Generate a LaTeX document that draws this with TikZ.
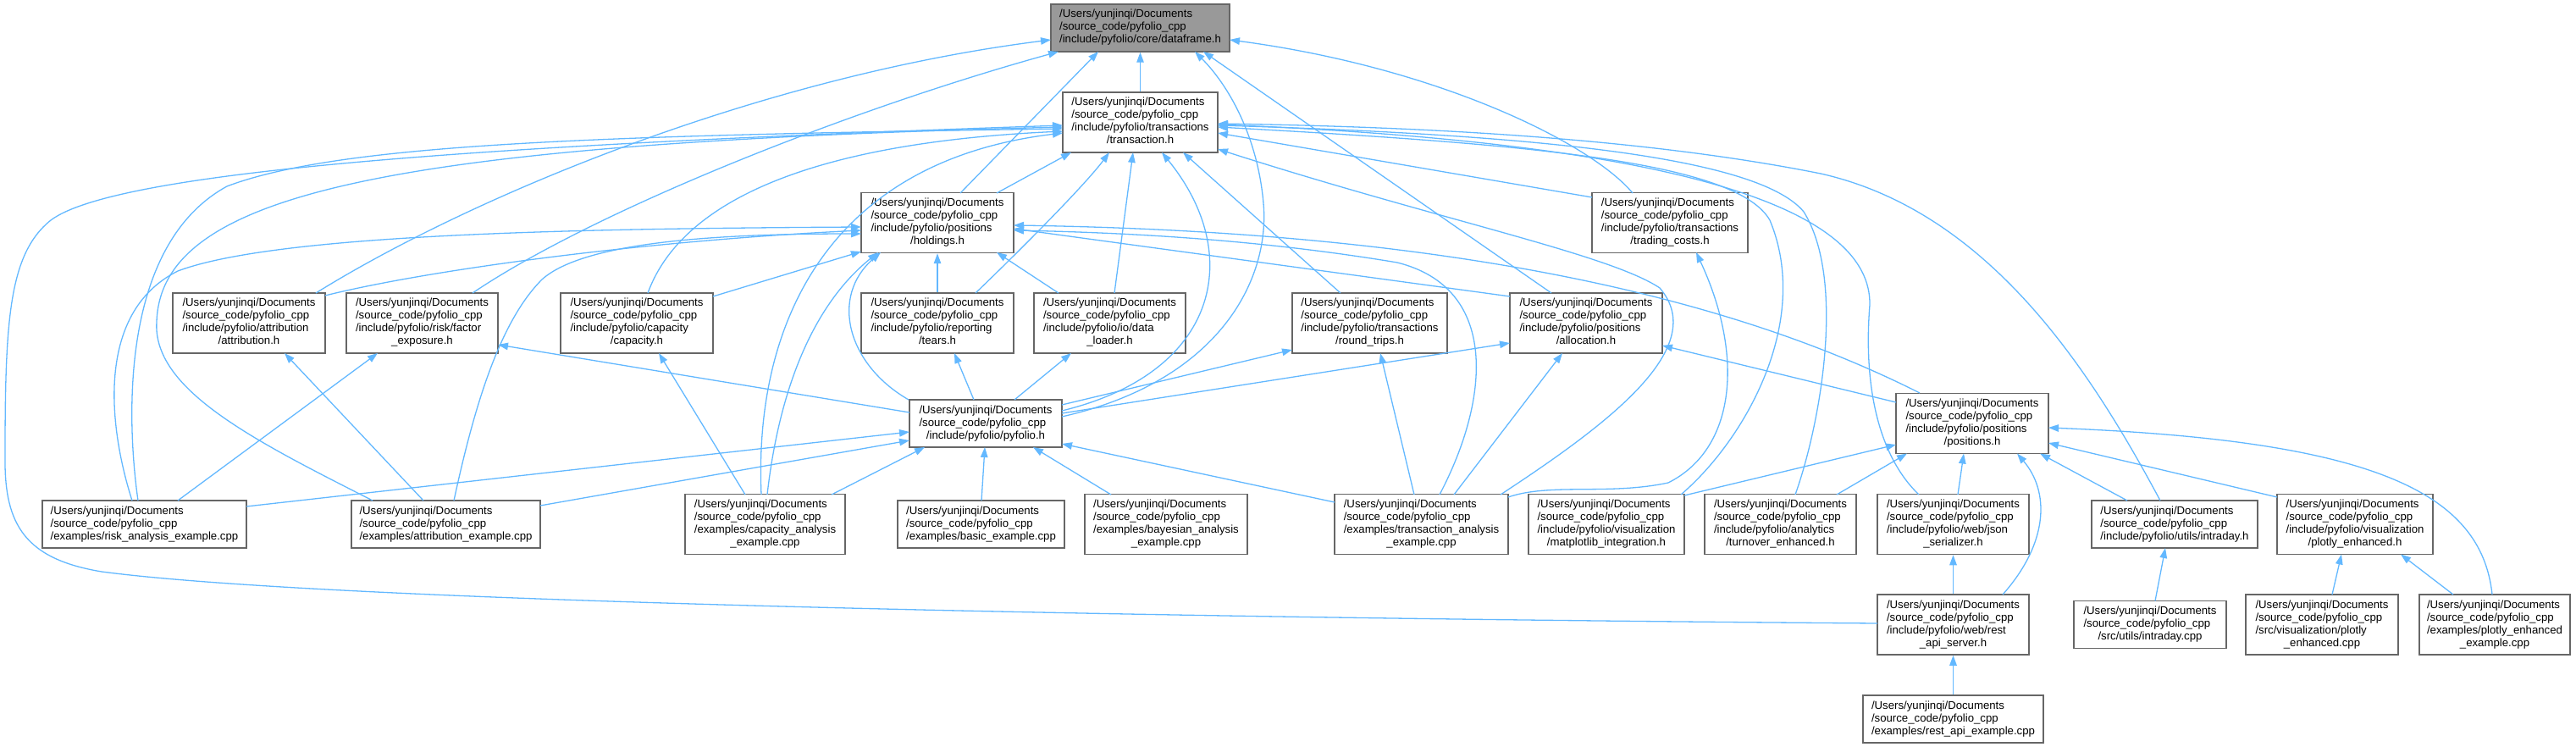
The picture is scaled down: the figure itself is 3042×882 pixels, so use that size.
\documentclass[tikz,border=0pt]{standalone}
\usepackage{fontspec}
\setmainfont{Liberation Sans}
\usetikzlibrary{arrows.meta,calc}
\definecolor{edgeblue}{HTML}{63B8FF}
\definecolor{boxgray}{HTML}{666666}
\definecolor{rootgray}{HTML}{999999}
\newcommand\pfx{/Users/yunjinqi/Documents\\/source\_code/pyfolio\_cpp}
\newcommand\lab[2]{\begin{tabular}{@{}l@{}}#1\\\multicolumn{1}{@{}c@{}}{#2}\end{tabular}}
\tikzset{
  box/.style={draw=boxgray, line width=1.5pt, fill=white, inner sep=0pt,
    minimum width=180pt, minimum height=71pt, text=black,
    font=\fontsize{13.2}{15}\selectfont},
  box3/.style={box, minimum height=56pt},
  rootbox/.style={box3, fill=rootgray},
  dep/.style={draw=edgeblue, line width=1.3pt, -{Triangle[length=12pt,width=8.5pt]}}
}
\begin{document}
\begin{tikzpicture}[x=1pt,y=-1pt]
\useasboundingbox (0,0) rectangle (3042,882);
% ---------- nodes ----------
\node[rootbox, minimum width=211pt] (df) at (1346.5,33) {\lab{\pfx}{/include/pyfolio/core/dataframe.h}};
\node[box, minimum width=183pt] (tr) at (1346.5,144.5) {\lab{\pfx\\/include/pyfolio/transactions}{/transaction.h}};
\node[box] (ho) at (1107,263) {\lab{\pfx\\/include/pyfolio/positions}{/holdings.h}};
\node[box, minimum width=184pt] (tc) at (1972,263) {\lab{\pfx\\/include/pyfolio/transactions}{/trading\_costs.h}};
\node[box] (at) at (294,381.5) {\lab{\pfx\\/include/pyfolio/attribution}{/attribution.h}};
\node[box, minimum width=179pt] (fe) at (498.5,381.5) {\lab{\pfx\\/include/pyfolio/risk/factor}{\_exposure.h}};
\node[box] (ca) at (752,381.5) {\lab{\pfx\\/include/pyfolio/capacity}{/capacity.h}};
\node[box] (te) at (1107,381.5) {\lab{\pfx\\/include/pyfolio/reporting}{/tears.h}};
\node[box, minimum width=179pt] (dl) at (1310.5,381.5) {\lab{\pfx\\/include/pyfolio/io/data}{\_loader.h}};
\node[box, minimum width=183pt] (rt) at (1617.5,381.5) {\lab{\pfx\\/include/pyfolio/transactions}{/round\_trips.h}};
\node[box] (al) at (1873,381.5) {\lab{\pfx\\/include/pyfolio/positions}{/allocation.h}};
\node[box3] (py) at (1164,500) {\lab{\pfx}{/include/pyfolio/pyfolio.h}};
\node[box] (po) at (2329,500) {\lab{\pfx\\/include/pyfolio/positions}{/positions.h}};
\node[box3, minimum width=241pt] (rx) at (170.5,619) {\lab{\pfx}{/examples/risk\_analysis\_example.cpp}};
\node[box3, minimum width=223pt] (ax) at (526.5,619) {\lab{\pfx}{/examples/attribution\_example.cpp}};
\node[box, minimum width=189pt] (cx) at (903.5,619) {\lab{\pfx\\/examples/capacity\_analysis}{\_example.cpp}};
\node[box3, minimum width=197pt] (bx) at (1158.5,619) {\lab{\pfx}{/examples/basic\_example.cpp}};
\node[box, minimum width=192pt] (by) at (1377,619) {\lab{\pfx\\/examples/bayesian\_analysis}{\_example.cpp}};
\node[box, minimum width=205pt] (tx) at (1678.5,619) {\lab{\pfx\\/examples/transaction\_analysis}{\_example.cpp}};
\node[box, minimum width=184pt] (mp) at (1897,619) {\lab{\pfx\\/include/pyfolio/visualization}{/matplotlib\_integration.h}};
\node[box, minimum width=179pt] (tu) at (2102.5,619) {\lab{\pfx\\/include/pyfolio/analytics}{/turnover\_enhanced.h}};
\node[box, minimum width=179pt] (js) at (2306.5,619) {\lab{\pfx\\/include/pyfolio/web/json}{\_serializer.h}};
\node[box3, minimum width=196pt] (ih) at (2568,619) {\lab{\pfx}{/include/pyfolio/utils/intraday.h}};
\node[box, minimum width=184pt] (ph) at (2781,619) {\lab{\pfx\\/include/pyfolio/visualization}{/plotly\_enhanced.h}};
\node[box, minimum width=179pt] (rs) at (2306.5,737.5) {\lab{\pfx\\/include/pyfolio/web/rest}{\_api\_server.h}};
\node[box3] (ic) at (2539,737.5) {\lab{\pfx}{/src/utils/intraday.cpp}};
\node[box] (pc) at (2742,737.5) {\lab{\pfx\\/src/visualization/plotly}{\_enhanced.cpp}};
\node[box, minimum width=178pt] (pe) at (2946,737.5) {\lab{\pfx\\/examples/plotly\_enhanced}{\_example.cpp}};
\node[box3, minimum width=213pt] (ra) at (2306.5,849) {\lab{\pfx}{/examples/rest\_api\_example.cpp}};
% ---------- edges into dataframe.h ----------
\draw[dep] (tr.north) -- (df.south);
\draw[dep] ($(ho)+(27,-35)$) -- ($(df)+(-49.5,28)$);
\draw[dep] ($(at)+(79,-35.5)$) .. controls (560,230) and (900,90) .. ($(df)+(-105.5,14)$);
\draw[dep] ($(fe)+(59.5,-35.5)$) .. controls (700,250) and (1000,130) .. ($(df)+(-96.5,28)$);
\draw[dep] ($(py)+(90,-8)$) .. controls (1440,450) and (1500,330) .. (1492,240) .. controls (1485,160) and (1450,100) .. ($(df)+(64.5,28)$);
\draw[dep] ($(al)+(-41,-35.5)$) -- ($(df)+(74.5,28)$);
\draw[dep] ($(tc)+(-44,-35)$) .. controls (1880,170) and (1700,80) .. ($(df)+(105.5,14)$);
% ---------- edges into transaction.h ----------
\draw[dep] ($(ho)+(70,-35)$) -- ($(tr)+(-81.5,35.5)$);
\draw[dep] ($(te)+(45,-35.5)$) .. controls (1200,300) and (1280,220) .. ($(tr)+(-36.5,35.5)$);
\draw[dep] ($(dl)+(5.5,-35.5)$) -- ($(tr)+(-8.5,35.5)$);
\draw[dep] ($(py)+(90,-15)$) .. controls (1440,440) and (1470,300) .. ($(tr)+(25.5,35.5)$);
\draw[dep] ($(rt)+(-34.5,-35.5)$) -- ($(tr)+(50.5,35.5)$);
\draw[dep] ($(ca)+(13,-35.5)$) .. controls (800,250) and (930,170) .. ($(tr)+(-91.5,10.5)$);
\draw[dep] ($(ax)+(-86.5,-28)$) .. controls (300,520) and (180,460) .. (185,380) .. controls (190,230) and (450,170) .. ($(tr)+(-91.5,5.5)$);
\draw[dep] ($(rx)+(-7.5,-28)$) .. controls (150,500) and (140,290) .. (268,220) .. controls (400,170) and (700,160) .. ($(tr)+(-91.5,7.5)$);
\draw[dep] ($(cx)+(-4.5,-35)$) .. controls (890,380) and (980,190) .. ($(tr)+(-91.5,12.5)$);
\draw[dep] ($(rs)+(-89.5,-1.5)$) .. controls (1400,730) and (400,712) .. (120,675) .. controls (30,660) and (5,620) .. (6,540) .. controls (6,380) and (10,300) .. (60,260) .. controls (140,200) and (600,170) .. ($(tr)+(-91.5,3.5)$);
\draw[dep] ($(tc)+(-92,-30)$) -- ($(tr)+(91.5,12.5)$);
\draw[dep] ($(tx)+(93.5,-35)$) .. controls (1900,500) and (2020,410) .. (1960,340) .. controls (1900,300) and (1700,260) .. ($(tr)+(91.5,31.5)$);
\draw[dep] ($(mp)+(88,-35)$) .. controls (2060,520) and (2140,380) .. (2090,260) .. controls (2050,190) and (1800,170) .. ($(tr)+(91.5,5.5)$);
\draw[dep] ($(tu)+(17.5,-35)$) .. controls (2150,500) and (2180,330) .. (2130,250) .. controls (2080,190) and (1850,160) .. ($(tr)+(91.5,3.5)$);
\draw[dep] ($(js)+(-40.5,-35)$) .. controls (2220,540) and (2200,460) .. (2208,360) .. controls (2210,250) and (2000,170) .. ($(tr)+(91.5,2.5)$);
\draw[dep] ($(ih)+(-17,-28)$) .. controls (2470,440) and (2350,250) .. (2150,205) .. controls (1950,165) and (1700,150) .. ($(tr)+(91.5,1.5)$);
% ---------- edges into holdings.h ----------
\draw[dep] ($(rx)+(-14.5,-28)$) .. controls (130,510) and (110,370) .. (210,320) .. controls (330,275) and (700,270) .. ($(ho)+(-90,5)$);
\draw[dep] ($(at)+(90,-32.5)$) .. controls (500,320) and (750,285) .. ($(ho)+(-90,9)$);
\draw[dep] ($(ax)+(9.5,-28)$) .. controls (560,480) and (590,380) .. (640,330) .. controls (690,285) and (850,276) .. ($(ho)+(-90,13)$);
\draw[dep] ($(ca)+(90,-31.5)$) -- ($(ho)+(-90,34)$);
\draw[dep] (te.north) -- (ho.south);
\draw[dep] ($(dl)+(-60.5,-35.5)$) -- ($(ho)+(70,35)$);
\draw[dep] ($(py)+(-91,-28)$) .. controls (1000,430) and (980,350) .. ($(ho)+(-67,35)$);
\draw[dep] ($(cx)+(2.5,-35)$) .. controls (920,460) and (960,360) .. ($(ho)+(-70,35)$);
\draw[dep] ($(po)+(-62,-36)$) .. controls (2100,380) and (1800,275) .. ($(ho)+(90,3)$);
\draw[dep] ($(tx)+(21.5,-35)$) .. controls (1760,470) and (1770,340) .. (1650,310) .. controls (1500,285) and (1350,275) .. ($(ho)+(90,9)$);
\draw[dep] ($(al)+(-90,-31.5)$) -- ($(ho)+(90,7)$);
% ---------- other edges ----------
\draw[dep] ($(tx)+(102.5,-32)$) .. controls (1830,570) and (1900,585) .. (1970,570) .. controls (2050,530) and (2060,420) .. ($(tc)+(31,35)$);
\draw[dep] ($(rx)+(39.5,-28)$) -- ($(fe)+(-52.5,35.5)$);
\draw[dep] ($(py)+(-90,-13)$) -- ($(fe)+(89.5,25.5)$);
\draw[dep] ($(ax)+(-26.5,-28)$) -- ($(at)+(42,35.5)$);
\draw[dep] ($(cx)+(-23.5,-35)$) -- ($(ca)+(26,35.5)$);
\draw[dep] ($(py)+(-14,-28)$) -- ($(te)+(20,35.5)$);
\draw[dep] ($(py)+(34,-28)$) -- ($(dl)+(-45.5,35.5)$);
\draw[dep] ($(py)+(90,-22)$) -- ($(rt)+(-91.5,31.5)$);
\draw[dep] ($(tx)+(-8.5,-35)$) -- ($(rt)+(12.5,35.5)$);
\draw[dep] ($(py)+(90,-12)$) -- ($(al)+(-90,23.5)$);
\draw[dep] ($(tx)+(38.5,-35)$) -- ($(al)+(-28,35.5)$);
\draw[dep] ($(po)+(-90,-25)$) -- ($(al)+(90,26.5)$);
% ---------- edges into pyfolio.h ----------
\draw[dep] ($(rx)+(120.5,-21)$) -- ($(py)+(-90,10)$);
\draw[dep] ($(ax)+(111.5,-22)$) -- ($(py)+(-90,20)$);
\draw[dep] ($(cx)+(78.5,-35)$) -- ($(py)+(-72,28)$);
\draw[dep] ($(bx)+(0.5,-28)$) -- ($(py)+(-1,28)$);
\draw[dep] ($(by)+(-65,-35)$) -- ($(py)+(56,28)$);
\draw[dep] ($(tx)+(-102.5,-26)$) -- ($(py)+(90,24)$);
% ---------- edges into positions.h ----------
\draw[dep] ($(mp)+(92,-34)$) -- ($(po)+(-90,25)$);
\draw[dep] ($(tu)+(66.5,-35)$) -- ($(po)+(-77,35.5)$);
\draw[dep] ($(js)+(5.5,-35)$) -- ($(po)+(-10,35.5)$);
\draw[dep] ($(rs)+(58.5,-35.5)$) .. controls (2420,640) and (2420,580) .. ($(po)+(53,35.5)$);
\draw[dep] ($(ih)+(-56,-28)$) -- ($(po)+(80,35.5)$);
\draw[dep] ($(ph)+(-92,-32)$) -- ($(po)+(90,23)$);
\draw[dep] ($(pe)+(-3,-35.5)$) .. controls (2930,580) and (2800,520) .. ($(po)+(90,5)$);
% ---------- lower edges ----------
\draw[dep] (rs.north) -- (js.south);
\draw[dep] ($(ic)+(6,-28)$) -- ($(ih)+(-11,28)$);
\draw[dep] ($(pc)+(12,-35.5)$) -- ($(ph)+(-16,35.5)$);
\draw[dep] ($(pe)+(-49,-35.5)$) -- ($(ph)+(54,35.5)$);
\draw[dep] (ra.north) -- (rs.south);
\end{tikzpicture}
\end{document}
